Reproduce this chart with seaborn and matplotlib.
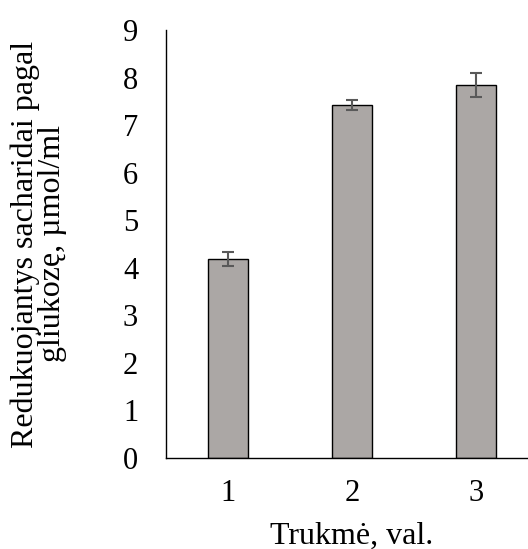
import matplotlib
matplotlib.use("Agg")
import matplotlib.pyplot as plt
import seaborn as sns
import pandas as pd

# Reducing sugar content by hydrolysis duration
durations = ["1", "2", "3"]
sugars = [4.18, 7.42, 7.85]
errors = [0.15, 0.10, 0.25]
y_ticks = [0, 1, 2, 3, 4, 5, 6, 7, 8, 9]

sns.set_theme(style="white")
plt.rcParams["font.family"] = ["Liberation Serif", "DejaVu Serif"]

df = pd.DataFrame({"Trukmė": durations, "Sacharidai": sugars})

fig = plt.figure(figsize=(5.28, 5.49), dpi=100)
ax = fig.add_axes([166 / 528, 91 / 549, 372 / 528, 428 / 549])

sns.barplot(data=df, x="Trukmė", y="Sacharidai", ax=ax, color="#ABA7A5",
            saturation=1, width=0.32, edgecolor="black", linewidth=1.0)
ax.errorbar(range(len(durations)), sugars, yerr=errors, fmt="none",
            ecolor="#595959", elinewidth=1.5, capsize=4.5, capthick=1.5)

ax.set_xlim(-0.5, 2.5)
ax.set_ylim(0, 9)
ax.set_yticks(y_ticks)
ax.set_yticklabels([str(t) for t in y_ticks])

for side in ["top", "right"]:
    ax.spines[side].set_visible(False)
for side in ["left", "bottom"]:
    ax.spines[side].set_color("black")
    ax.spines[side].set_linewidth(1.0)

ax.tick_params(axis="both", length=0, labelsize=22, colors="black")
ax.tick_params(axis="y", pad=20)
ax.tick_params(axis="x", pad=15)

ax.set_xlabel("Trukmė, val.", fontsize=23, color="black")
ax.xaxis.set_label_coords(0.5, -0.148)
ax.set_ylabel("Redukuojantys sacharidai pagal\ngliukozę, µmol/ml", fontsize=23,
              color="black", linespacing=0.95)
ax.yaxis.set_label_coords(-0.265, 0.5)

fig.savefig("out.png", dpi=100)
